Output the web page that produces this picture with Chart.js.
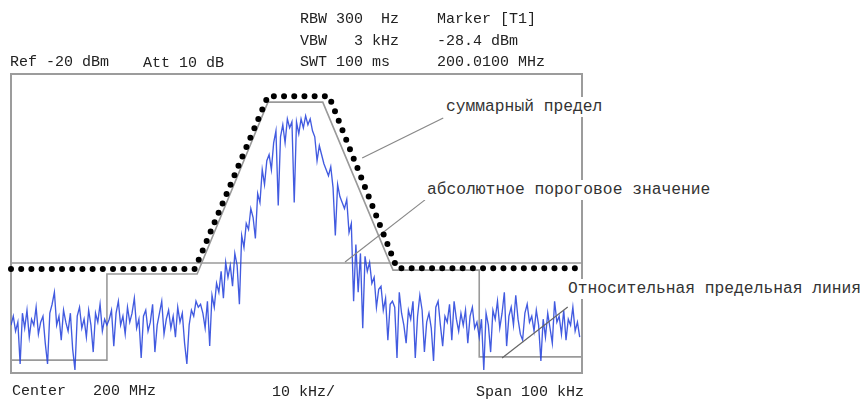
<!DOCTYPE html>
<html><head><meta charset="utf-8">
<script src="https://cdn.jsdelivr.net/npm/chart.js@4.4.1/dist/chart.umd.min.js"></script>
<style>
html,body{margin:0;padding:0;background:#fff;}
#wrap{position:relative;width:867px;height:402px;overflow:hidden;background:#fff;}
canvas{position:absolute;left:0;top:0;}
.t{position:absolute;font-family:"Liberation Mono","DejaVu Sans Mono",monospace;white-space:pre;color:#222;font-size:15px;line-height:15px;}
.a{position:absolute;font-family:"Liberation Mono","DejaVu Sans Mono",monospace;white-space:pre;color:#333;font-size:16.3px;line-height:16px;background:#fff;padding:2px 3px;}
</style></head><body>
<div id="wrap">
<canvas id="c" width="867" height="402"></canvas>
<div class="t" style="left:10px;top:55px">Ref -20 dBm</div>
<div class="t" style="left:143px;top:56px">Att 10 dB</div>
<div class="t" style="left:300px;top:12px">RBW 300  Hz</div>
<div class="t" style="left:300px;top:34px">VBW   3 kHz</div>
<div class="t" style="left:300px;top:55px">SWT 100 ms</div>
<div class="t" style="left:437px;top:12px">Marker [T1]</div>
<div class="t" style="left:437px;top:34px">-28.4 dBm</div>
<div class="t" style="left:437px;top:55px">200.0100 MHz</div>
<div class="t" style="left:12px;top:384px">Center   200 MHz</div>
<div class="t" style="left:272px;top:385px">10 kHz/</div>
<div class="t" style="left:476px;top:385px">Span 100 kHz</div>
<div class="a" style="left:443px;top:97px">суммарный предел</div>
<div class="a" style="left:424px;top:180px">абсолютное пороговое значение</div>
<div class="a" style="left:565px;top:279px">Относительная предельная линия</div>
</div>
<script>
// Frequency offset from center (kHz) and level (dBm)
const sweepStartKHz = -50;
const sweepStepKHz = 0.4;
const traceDbm = [
-104,-101,-106,-103,-117,-100,-105,-99,-108,-102,
-104,-98,-107,-103,-101,-110,-117,-100,-97,-93,
-104,-101,-109,-99,-103,-106,-100,-112,-119,-101,
-98,-105,-102,-108,-99,-104,-113,-100,-103,-97,
-106,-102,-104,
-102,-99,-111,-100,-96,-104,-101,-107,-98,-103,
-100,-95,-105,-102,-115,-101,-99,-106,-103,-97,
-113,-104,-100,-96,-107,-102,-99,-105,-101,-108,
-98,-103,-100,-110,-117,-104,-99,-101,-96,-98,
-97,-100,-105,-96,-111,-94,-98,-90,-93,-86,
-95,-83,-88,-84,-91,-80,-84,-97,-74,-78,
-70,-72,-65,-68,-75,-60,-63,-52,-57,-49,
-47,-52,-43,-39,-64,-41,-37,-43,-35,-38,
-36,-63,-36,-40,-35,-38,-34,-37,-35,-39,
-41,-49,-44,-47,-50,
-52,-54,-51,-58,-74,-57,-61,-63,-65,-62,
-73,-70,-96,-77,-93,-80,-105,-81,-86,-83,
-90,-88,-98,-92,-91,-99,-95,-109,-97,-96,
-98,-115,-93,-100,-104,-110,-99,-102,-96,-115,
-101,-94,-99,-113,-103,-100,-105,-116,-98,-96,
-104,-111,-101,-103,-97,-109,-96,-102,-106,-100,
-104,-99,-110,-101,-98,-105,-103,-108,
-102,-119,-100,-104,-113,-99,-102,-96,-105,-100,
-93,-111,-101,-98,-104,-94,-102,-107,-109,-100,
-97,-103,-101,-106,-99,-104,-116,-102,-108,-100,
-105,-110,-96,-103,-101,-107,-99,-109,-102,-104,
-98,-106,-103,-108
];
// Relative limit line vertices
const relLimitKHz = [-50, -33.2, -33.2, -17.4, -5, 4.6, 16.9, 32, 32, 50];
const relLimitDbm = [-115.7, -115.7, -86.9, -86.9, -29.4, -29.4, -85.6, -85.6, -114.6, -114.6];
// Absolute threshold
const absLimitKHz = [-50, 50];
const absLimitDbm = [-83.2, -83.2];
// Sum limit
const sumLimitKHz = [-50, -17.8, -5, 5.7, 17.6, 50];
const sumLimitDbm = [-85.2, -85.2, -27.4, -27.4, -85, -85];
// Annotation leader lines [fromKHz, fromDbm, toKHz, toDbm]
const leaderSum = [25.7, -34.7, 11.5, -48.1];
const leaderAbs = [22.5, -62.1, 8.5, -82.9];
const leaderRel = [47.5, -97.9, 36.0, -115.0];

const pts = (xs, ys) => xs.map((x, i) => ({x, y: ys[i]}));
const tracePts = traceDbm.map((v, i) => ({x: sweepStartKHz + i * sweepStepKHz, y: v}));
const leader = a => [{x: a[0], y: a[1]}, {x: a[2], y: a[3]}];

const framePlugin = {
  id: 'frame',
  beforeDatasetsDraw(chart) {
    const {ctx, chartArea: a} = chart;
    ctx.save();
    ctx.strokeStyle = '#9c9c9c';
    ctx.lineWidth = 2;
    ctx.strokeRect(a.left, a.top, a.right - a.left, a.bottom - a.top);
    ctx.restore();
  }
};

const lineBase = {pointRadius: 0, tension: 0, fill: false};
new Chart(document.getElementById('c'), {
  type: 'line',
  data: {
    datasets: [
      Object.assign({}, lineBase, {data: pts(sumLimitKHz, sumLimitDbm), borderColor: '#000', borderWidth: 6, borderDash: [0, 10.2], borderCapStyle: 'round', borderJoinStyle: 'round', order: 0, clip: false}),
      Object.assign({}, lineBase, {data: leader(leaderSum), borderColor: '#888', borderWidth: 1.2, order: 1}),
      Object.assign({}, lineBase, {data: leader(leaderAbs), borderColor: '#888', borderWidth: 1.2, order: 1}),
      Object.assign({}, lineBase, {data: leader(leaderRel), borderColor: '#666', borderWidth: 1.2, order: 1}),
      Object.assign({}, lineBase, {data: tracePts, borderColor: 'rgba(40,68,220,0.88)', borderWidth: 1.35, order: 2}),
      Object.assign({}, lineBase, {data: pts(relLimitKHz, relLimitDbm), borderColor: '#9a9a9a', borderWidth: 1.6, order: 3}),
      Object.assign({}, lineBase, {data: pts(absLimitKHz, absLimitDbm), borderColor: '#9a9a9a', borderWidth: 1.6, order: 3})
    ]
  },
  options: {
    responsive: false,
    animation: false,
    events: [],
    layout: {padding: {left: 11, right: 285, top: 74, bottom: 29}},
    plugins: {legend: {display: false}, tooltip: {enabled: false}, title: {display: false}},
    scales: {
      x: {type: 'linear', min: -50, max: 50, display: false},
      y: {type: 'linear', min: -120, max: -20, display: false}
    }
  },
  plugins: [framePlugin]
});
</script>
</body></html>
